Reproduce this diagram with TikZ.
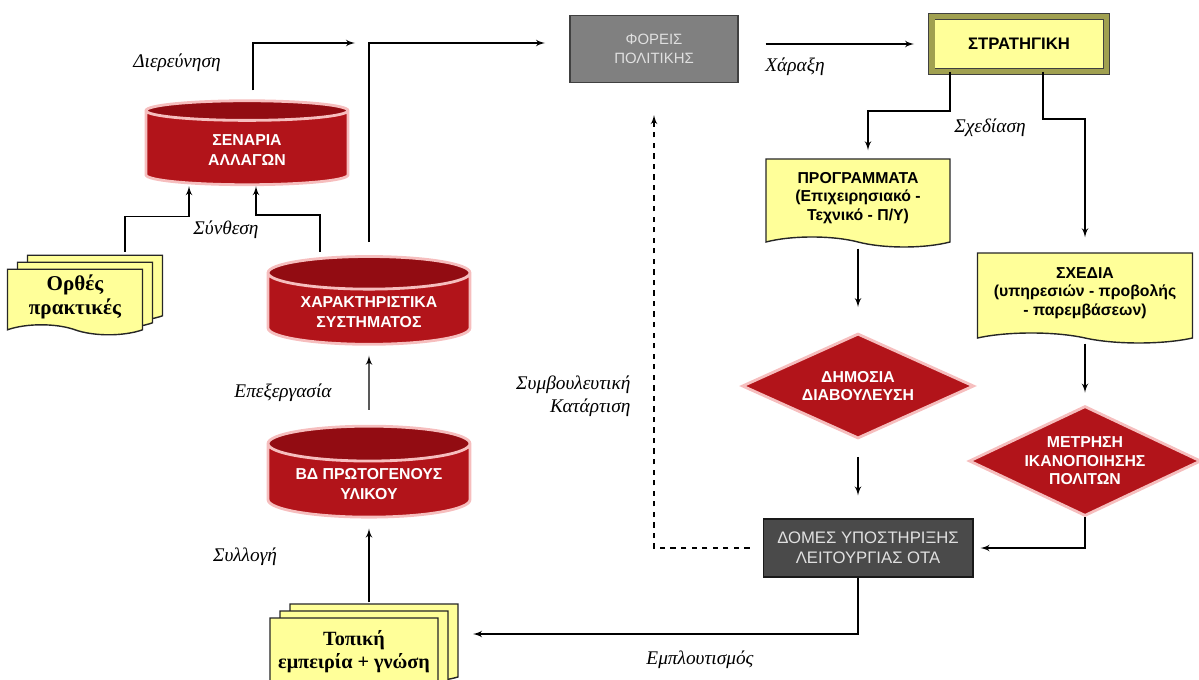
\documentclass[tikz,border=0pt]{standalone}
\usepackage{fontspec}
\setmainfont{Liberation Serif}
\setsansfont{Liberation Sans}
\usetikzlibrary{arrows,shapes.geometric,shapes.symbols,shadows}
\definecolor{dbred}{RGB}{178,20,26}
\definecolor{dbtop}{RGB}{146,12,18}
\definecolor{dbrim}{RGB}{246,190,190}
\definecolor{docyel}{RGB}{255,255,153}
\definecolor{bevelol}{RGB}{160,160,80}
\definecolor{grayA}{RGB}{128,128,128}
\definecolor{grayB}{RGB}{74,74,74}
\definecolor{txtgray}{RGB}{224,224,224}
\tikzset{
  boxtxt/.style = {align=center, font=\sffamily\fontsize{9}{11}\selectfont},
  db_r/.style = {boxtxt, cylinder, shape border rotate=90, aspect=0.22,
    draw=dbrim, line width=1.6pt, cylinder uses custom fill,
    cylinder body fill=dbred, cylinder end fill=dbtop, text=white,
    font=\sffamily\bfseries\fontsize{9}{11.5}\selectfont,
    minimum width=4.04cm, minimum height=1.68cm},% base de donnees
  dec_r/.style = {boxtxt, diamond, aspect=2.1, inner sep=0pt, draw=dbrim,
    line width=1.6pt, fill=dbred, text=white,
    font=\sffamily\bfseries\fontsize{9}{10.5}\selectfont},% losange rouge
  doc_y/.style = {boxtxt, tape, tape bend top=none, tape bend bottom=out and in,
    tape bend height=0.2cm, draw=black!85, fill=docyel, line width=0.8pt,
    font=\sffamily\bfseries\fontsize{9}{10.5}\selectfont},% document jaune
  docs_y/.style = {doc_y, font=\bfseries\fontsize{12}{13.5}\selectfont,
    copy shadow={shadow xshift=0.4cm, shadow yshift=0.28cm, fill=docyel, draw=black!85, opacity=1},
    copy shadow={shadow xshift=0.2cm, shadow yshift=0.14cm, fill=docyel, draw=black!85, opacity=1}},% pile de documents
  box_g/.style = {boxtxt, rectangle, draw=black!75, fill=grayA, text=txtgray,
    line width=0.6pt, minimum width=3.36cm, minimum height=1.34cm},% boite grise
  box_d/.style = {box_g, fill=grayB, draw=black!90,
    font=\sffamily\fontsize{9.5}{11.5}\selectfont,
    minimum width=4.2cm, minimum height=1.16cm},% boite gris fonce
  bev_y/.style = {boxtxt, rectangle, fill=docyel, draw=black!75, line width=0.5pt,
    double=bevelol, double distance=3.4pt,
    font=\sffamily\bfseries\fontsize{9.5}{11}\selectfont,
    minimum width=3.5cm, minimum height=1.1cm},% cadre biseaute
  lbl/.style = {align=center, font=\itshape\fontsize{11}{13}\selectfont}% libelle
}

\begin{document}
\begin{tikzpicture}[x=0.02cm, y=-0.02cm, ->, >=latex', line width=0.8pt]

	\useasboundingbox (0,0) rectangle (1199,679);

	% colonne de gauche
	\node [db_r] (scen) at (247,150) {ΣΕΝΑΡΙΑ\\ΑΛΛΑΓΩΝ};
	\node [db_r] (feat) at (369,312) {ΧΑΡΑΚΤΗΡΙΣΤΙΚΑ\\ΣΥΣΤΗΜΑΤΟΣ};
	\node [db_r] (raw) at (369,484) {ΒΔ ΠΡΩΤΟΓΕΝΟΥΣ\\ΥΛΙΚΟΥ};
	\node [docs_y, minimum width=2.7cm, minimum height=1.28cm] (good) at (75,297) {Ορθές\\πρακτικές};
	\node [docs_y, font=\bfseries\fontsize{11.5}{13}\selectfont,
		minimum width=3.36cm, minimum height=1.56cm] (local) at (354,652) {Τοπική\\εμπειρία + γνώση};

	% centre et droite
	\node [box_g, font=\sffamily\fontsize{8.5}{11}\selectfont] (actors) at (654,49) {ΦΟΡΕΙΣ\\ΠΟΛΙΤΙΚΗΣ};
	\node [bev_y] (strat) at (1019,44) {ΣΤΡΑΤΗΓΙΚΗ};
	\node [doc_y, minimum width=3.68cm, minimum height=1.76cm] (progs) at (858,198)
		{ΠΡΟΓΡΑΜΜΑΤΑ\\(Επιχειρησιακό -\\Τεχνικό - Π/Υ)};
	\node [doc_y, minimum width=4.3cm, minimum height=1.8cm] (plans) at (1085,293)
		{ΣΧΕΔΙΑ\\(υπηρεσιών - προβολής\\- παρεμβάσεων)};
	\node [dec_r, minimum width=4.64cm, minimum height=2.1cm] (consult) at (858,386) {ΔΗΜΟΣΙΑ\\ΔΙΑΒΟΥΛΕΥΣΗ};
	\node [dec_r, minimum width=4.64cm, minimum height=2.2cm] (survey) at (1085,461) {ΜΕΤΡΗΣΗ\\ΙΚΑΝΟΠΟΙΗΣΗΣ\\ΠΟΛΙΤΩΝ};
	\node [box_d] (units) at (868,548) {ΔΟΜΕΣ ΥΠΟΣΤΗΡΙΞΗΣ\\ΛΕΙΤΟΥΡΓΙΑΣ ΟΤΑ};

	\coordinate (j1) at (355,43);
	\coordinate (j2) at (545,43);
	\coordinate (enr) at (473,634);

	% liaisons
	\draw ([xshift=0.12cm,yshift=0.18cm]scen.north) |- (j1);
	\draw ([yshift=0.26cm]feat.north) |- (j2);
	\draw ([xshift=1cm,yshift=0.34cm]good.north) -- ++(0,-35) -| ([xshift=-1.16cm]scen.south);
	\draw ([xshift=-0.98cm,yshift=0.06cm]feat.north) -- ++(0,-37) -| ([xshift=0.18cm]scen.south);
	\draw [shorten <=0.3cm, shorten >=0.2cm] (raw.north) -- (feat.south);
	\draw [shorten <=0.3cm, shorten >=0.2cm] (local.north -| raw.south) -- (raw.south);
	\draw (units.south -| consult.south) |- (enr);
	\draw [shorten <=0.54cm, shorten >=0.34cm] (actors.east |- strat.west) -- (strat.west);
	\draw ([xshift=-1.38cm]strat.south) -- ++(0,39) -| ([xshift=0.2cm,yshift=0.16cm]progs.north);
	\draw ([xshift=0.48cm]strat.south) -- ++(0,47) -| ([yshift=0.3cm]plans.north);
	\draw [shorten <=0.22cm, shorten >=0.5cm] (progs.south) -- (consult.north);
	\draw [shorten <=0.34cm, shorten >=0.46cm] (consult.south) -- (consult.south |- units.north);
	\draw [shorten <=0.2cm, shorten >=0.24cm] (plans.south) -- (survey.north);
	\draw (survey.south) |- ([xshift=0.14cm]units.east);
	\draw [dashed, shorten <=0.26cm, shorten >=0.64cm] (units.west) -| (actors.south);

	% libelles
	\node [lbl] (l_dier) at (177,63) {Διερεύνηση};
	\node [lbl] (l_synth) at (226,230) {Σύνθεση};
	\node [lbl] (l_proc) at (283,393) {Επεξεργασία};
	\node [lbl] (l_coll) at (245,557) {Συλλογή};
	\node [lbl] (l_enr) at (700,660) {Εμπλουτισμός};
	\node [lbl] (l_draw) at (795,67) {Χάραξη};
	\node [lbl] (l_design) at (990,128) {Σχεδίαση};
	\node [lbl, align=right, anchor=east] (l_cons) at (637,396) {Συμβουλευτική\\Κατάρτιση};

\end{tikzpicture}
\end{document}
